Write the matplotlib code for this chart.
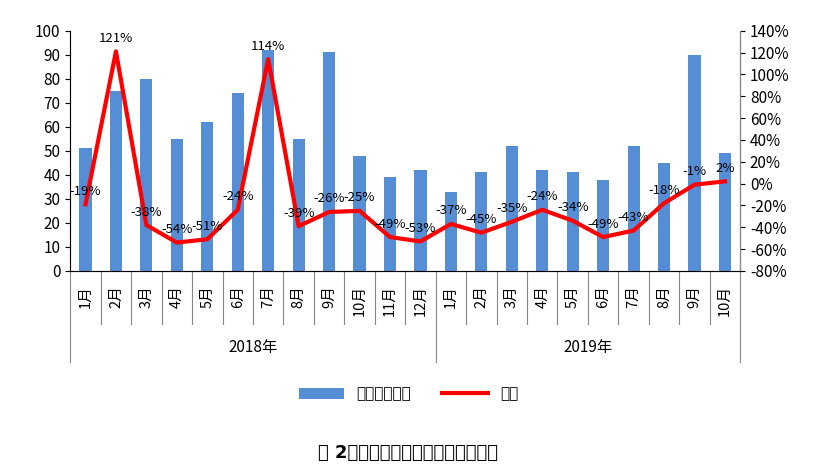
import matplotlib
matplotlib.use("Agg")
import matplotlib.pyplot as plt
from matplotlib.ticker import FuncFormatter

plt.rcParams["font.family"] = "sans-serif"
plt.rcParams["font.sans-serif"] = ["Noto Sans CJK SC", "Noto Sans CJK JP", "Noto Sans CJK TC", "DejaVu Sans"]

months = ["1月","2月","3月","4月","5月","6月","7月","8月","9月","10月","11月","12月",
          "1月","2月","3月","4月","5月","6月","7月","8月","9月","10月"]
years = ["2018年", "2019年"]
year_counts = [12, 10]
models = [51,75,80,55,62,74,92,55,91,48,39,42, 33,41,52,42,41,38,52,45,90,49]
yoy = [-19,121,-38,-54,-51,-24,114,-39,-26,-25,-49,-53, -37,-45,-35,-24,-34,-49,-43,-18,-1,2]

fig = plt.figure(figsize=(8.17, 4.72), dpi=100)
ax = fig.add_axes([0.086, 0.426, 0.82, 0.509])
x = list(range(len(months)))
ax.bar(x, models, width=0.4, color="#558ED5", label="新产品型号数", zorder=2)
ax.set_ylim(0, 100)
ax.set_yticks(range(0, 101, 10))
ax.set_xlim(-0.5, len(months) - 0.5)
ax.set_xticks([])
ax.spines["top"].set_visible(False)
ax.spines["left"].set_color("#888888")
ax.spines["bottom"].set_color("#888888")
ax.tick_params(labelsize=11)

ax2 = ax.twinx()
ax2.plot(x, yoy, color="#FF0000", lw=3, label="同比", zorder=3)
ax2.set_ylim(-80, 140)
ax2.set_yticks(range(-80, 141, 20))
ax2.yaxis.set_major_formatter(FuncFormatter(lambda v, p: f"{int(v)}%"))
ax2.tick_params(labelsize=11)
ax2.spines["top"].set_visible(False)
ax2.spines["right"].set_color("#888888")
for xi, v in zip(x, yoy):
    ax2.text(xi, v + 6, f"{v}%", ha="center", va="bottom", fontsize=9.5)

trans = ax.get_xaxis_transform()
for xi, m in zip(x, months):
    ax.text(xi, -0.06, m, rotation=90, ha="center", va="top", fontsize=10.5, transform=trans)
bounds = [-0.5]
for c in year_counts:
    bounds.append(bounds[-1] + c)
for b in range(len(months) + 1):
    xb = b - 0.5
    ytop = -0.22 if b not in (0, 12, 22) else -0.38
    ax.plot([xb, xb], [0, ytop], transform=trans, color="#888888", lw=0.8, clip_on=False)
for i, yl in enumerate(years):
    mid = (bounds[i] + bounds[i + 1]) / 2
    ax.text(mid, -0.32, yl, ha="center", va="center", fontsize=11, transform=trans)

h1, l1 = ax.get_legend_handles_labels()
h2, l2 = ax2.get_legend_handles_labels()
fig.legend(h1 + h2, l1 + l2, loc="center", bbox_to_anchor=(0.5, 0.165), ncol=2,
           frameon=False, prop={"family": "Noto Sans CJK SC", "size": 11},
           handlelength=3, columnspacing=2)
fig.text(0.5, 0.04, "图 2：国内手机市场上市新机型数量", ha="center", va="center",
         fontsize=13, fontweight="bold", family="Noto Sans CJK SC")
fig.savefig("out.png", dpi=100)
